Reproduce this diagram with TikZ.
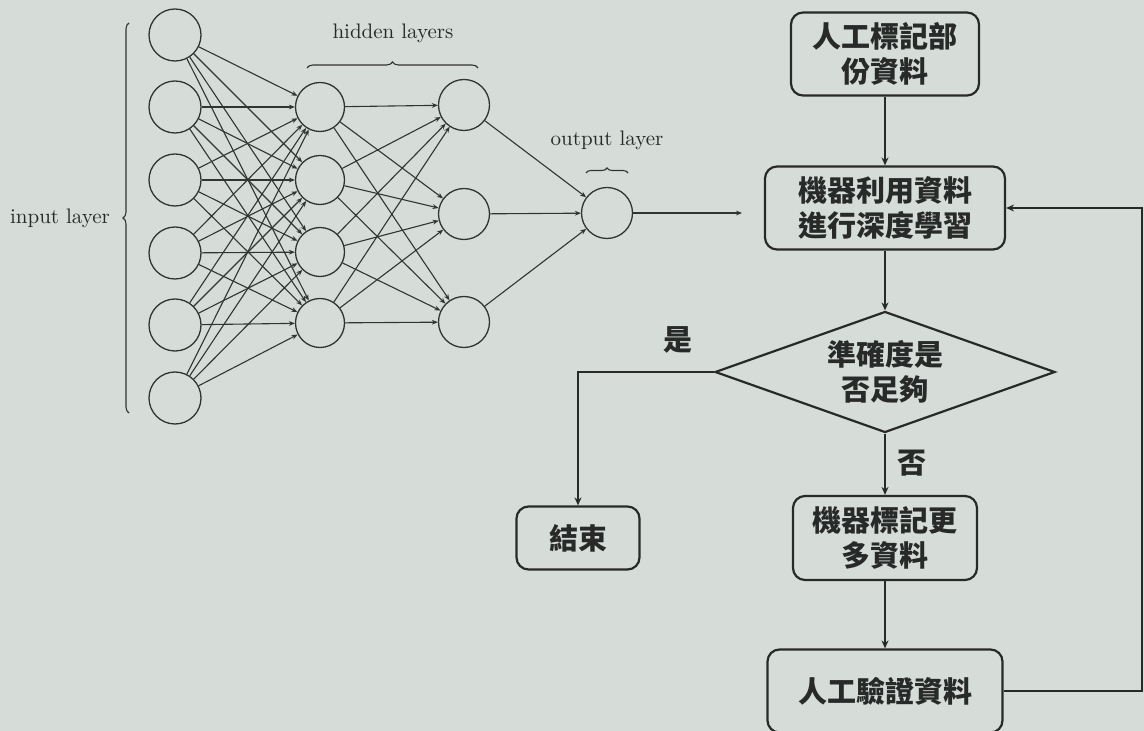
\documentclass[tikz,border=0pt]{standalone}
\usepackage{fontspec}
\newfontfamily\cjk{Noto Sans CJK TC}
\usetikzlibrary{shapes.geometric,decorations.pathreplacing,arrows.meta}
\definecolor{bgc}{RGB}{214,221,216}
\definecolor{linec}{RGB}{50,52,51}
\definecolor{boxc}{RGB}{40,42,41}
\begin{document}
\begin{tikzpicture}[x=0.5pt,y=-0.5pt,
  neuron/.style={circle,draw=linec,line width=0.65pt,minimum size=25.5pt,inner sep=0},
  netedge/.style={draw=linec,line width=0.55pt,-{Stealth[length=3pt,width=2.4pt]}},
  lbl/.style={font=\fontsize{10.5}{12}\selectfont,text=boxc},
  cjkfont/.style={font=\cjk\bfseries\fontsize{14.5}{17.5}\selectfont,text=boxc},
  fbox/.style={cjkfont,draw=boxc,line width=1.1pt,rounded corners=6pt,align=center,inner sep=0},
  flow/.style={draw=boxc,line width=0.9pt,-{Stealth[length=4pt,width=3.5pt]}},
  brc/.style={draw=linec,line width=0.55pt,decorate,decoration={brace,amplitude=3pt}}
]
\fill[bgc] (0,0) rectangle (1144,731);
\useasboundingbox (0,0) rectangle (1144,731);

% neural network
\foreach \y [count=\i] in {35,107,180,253,325,398}
  \node[neuron,minimum size=26pt] (i\i) at (175,\y) {};
\foreach \y [count=\i] in {107,180,252,323}
  \node[neuron,minimum size=24.5pt] (h\i) at (320,\y) {};
\foreach \y [count=\i] in {105,214,322}
  \node[neuron] (g\i) at (464,\y) {};
\node[neuron] (o) at (607,213) {};

\foreach \i in {1,...,6}
  \foreach \j in {1,...,4}
    \draw[netedge] (i\i) -- (h\j);
\foreach \i in {1,...,4}
  \foreach \j in {1,...,3}
    \draw[netedge] (h\i) -- (g\j);
\foreach \i in {1,...,3}
  \draw[netedge] (g\i) -- (o);
\coordinate (outend) at (742,213);
\draw[netedge] (o) -- (outend);

% braces and labels
\coordinate (ib1) at (129,413);
\coordinate (ib2) at (129,23);
\draw[brc] (ib1) -- (ib2);
\node[lbl] (il) at (60,218) {input layer};
\coordinate (hb1) at (307,68);
\coordinate (hb2) at (478,68);
\draw[brc] (hb1) -- (hb2);
\node[lbl] (hl) at (393,33) {hidden layers};
\coordinate (ob1) at (586,173);
\coordinate (ob2) at (628,173);
\draw[brc,decoration={brace,amplitude=2.5pt}] (ob1) -- (ob2);
\node[lbl] (ol) at (607,140) {output layer};

% flowchart
\node[fbox,minimum width=94pt,minimum height=41.5pt] (b1) at (885,54) {人工標記部\\份資料};
\node[fbox,minimum width=120pt,minimum height=41.5pt] (b2) at (885,208) {機器利用資料\\進行深度學習};
\node[cjkfont,draw=boxc,line width=1.1pt,diamond,aspect=2.8,inner sep=0,
      minimum width=170pt,minimum height=60.5pt,align=center] (d) at (885,372) {準確度是\\否足夠};
\node[fbox,minimum width=61.5pt,minimum height=31.5pt] (e) at (578,538) {結束};
\node[fbox,minimum width=92pt,minimum height=42pt] (b4) at (885,538) {機器標記更\\多資料};
\node[fbox,minimum width=117.5pt,minimum height=41.5pt] (b5) at (885,691) {人工驗證資料};
\node[cjkfont] (yes) at (678,340) {是};
\node[cjkfont] (no) at (912,463) {否};

\draw[flow] (b1) -- (b2);
\draw[flow] (b2) -- (d);
\draw[flow] (d) -- (b4);
\draw[flow] (d.west) -| (e.north);
\draw[flow] (b4) -- (b5);
\coordinate (rc) at (1142,450);
\draw[flow] (b5.east) -- (b5.east -| rc) |- (b2.east);
\end{tikzpicture}
\end{document}
